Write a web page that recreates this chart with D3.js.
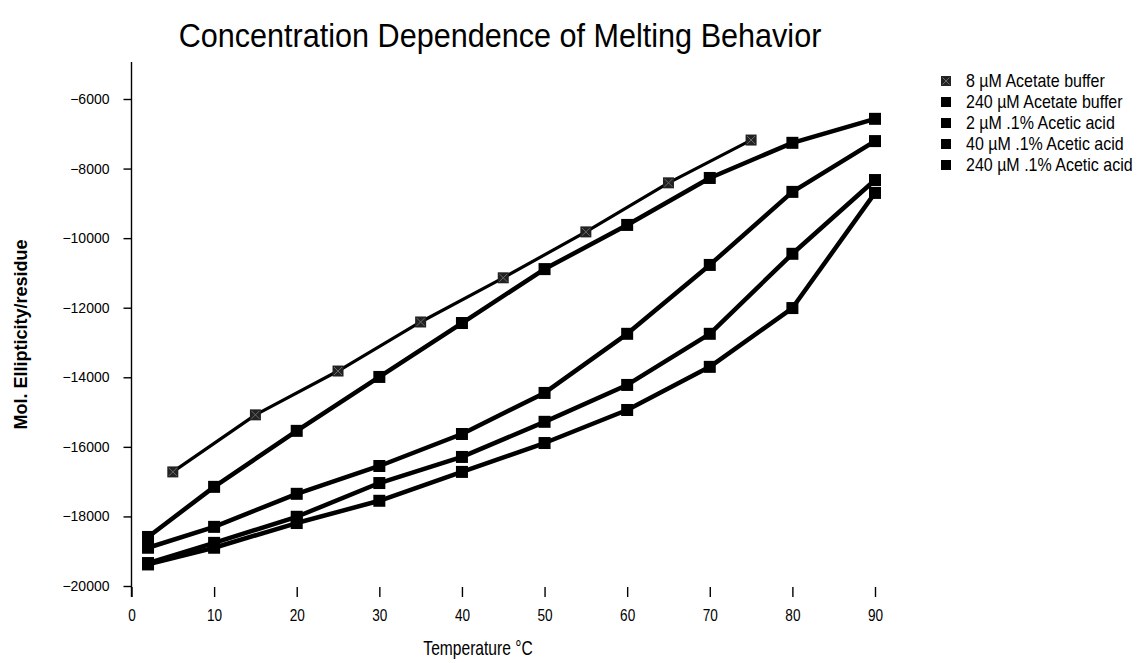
<!DOCTYPE html>
<html>
<head>
<meta charset="utf-8">
<script src="https://cdn.jsdelivr.net/npm/d3@7"></script>
<style>
  html, body { margin: 0; padding: 0; background: #fff; }
  svg { display: block; }
  text { font-family: 'Liberation Sans', Arial, sans-serif; }
</style>
</head>
<body>
<svg id="chart" width="1144" height="663"></svg>
<script>
// Temperatures (°C) at which each sample was measured
const temps = [2, 10, 20, 30, 40, 50, 60, 70, 80, 90];
const temps8 = [5, 15, 25, 35, 45, 55, 65, 75];

// Mean residue ellipticity for each sample
const acetate8 = [-16720, -15080, -13820, -12410, -11140, -9820, -8410, -7180];
const acetate240 = [-18590, -17150, -15540, -13990, -12440, -10890, -9620, -8270, -7260, -6570];
const acetic2 = [-18900, -18300, -17350, -16550, -15630, -14450, -12750, -10770, -8670, -7210];
const acetic40 = [-19340, -18760, -18010, -17040, -16290, -15280, -14220, -12750, -10450, -8330];
const acetic240 = [-19380, -18900, -18190, -17550, -16720, -15890, -14940, -13700, -12010, -8700];

const seriesNames = [
  "8 \u00b5M Acetate buffer",
  "240 \u00b5M Acetate buffer",
  "2 \u00b5M .1% Acetic acid",
  "40 \u00b5M .1% Acetic acid",
  "240 \u00b5M .1% Acetic acid"
];

const xTicks = [0, 10, 20, 30, 40, 50, 60, 70, 80, 90];
const yTicks = [-6000, -8000, -10000, -12000, -14000, -16000, -18000, -20000];

const titleText = "Concentration Dependence of Melting Behavior";
const xTitle = "Temperature \u00b0C";
const yTitle = "Mol. Ellipticity/residue";

const series = [
  { name: seriesNames[0], xs: temps8, ys: acetate8, hatched: true },
  { name: seriesNames[1], xs: temps, ys: acetate240 },
  { name: seriesNames[2], xs: temps, ys: acetic2 },
  { name: seriesNames[3], xs: temps, ys: acetic40 },
  { name: seriesNames[4], xs: temps, ys: acetic240 }
];

const svg = d3.select("#chart");

const plotTop = 62, plotBottom = 597;
const x = d3.scaleLinear().domain([0, 90]).range([131.5, 875]);
const y = d3.scaleLinear().domain([-20000, -6000]).range([586, 99]);

// Condensed lettering: regular face squeezed horizontally
const narrow = 0.8;

// Title
svg.append("text")
  .attr("transform", `translate(500,47) scale(0.9,1)`)
  .attr("text-anchor", "middle")
  .attr("font-size", 34)
  .attr("fill", "#000")
  .text(titleText);

// Y axis
const yAxis = d3.axisLeft(y).tickValues(yTicks).tickSizeInner(8).tickSizeOuter(0).tickPadding(14)
  .tickFormat(d3.format("d"));
const gy = svg.append("g").attr("transform", `translate(${x(0)},0)`).call(yAxis);
gy.select(".domain").remove();
gy.attr("font-family", null);
gy.selectAll(".tick line").attr("stroke", "#000").attr("stroke-width", 1.4);
gy.selectAll(".tick text").attr("font-size", 14).attr("fill", "#000");
svg.append("line")
  .attr("x1", x(0)).attr("x2", x(0))
  .attr("y1", plotTop).attr("y2", plotBottom)
  .attr("stroke", "#000").attr("stroke-width", 1.4);

// X axis: tick marks only, pointing up into the plot
const xAxis = d3.axisBottom(x).tickValues(xTicks).tickSizeInner(-10).tickSizeOuter(0).tickPadding(12);
const gx = svg.append("g").attr("transform", `translate(0,${plotBottom})`).call(xAxis);
gx.select(".domain").remove();
gx.attr("font-family", null);
gx.selectAll(".tick line").attr("stroke", "#000").attr("stroke-width", 1.4);
gx.selectAll(".tick text")
  .attr("font-size", 17).attr("fill", "#000")
  .attr("transform", `scale(${narrow},1)`);

// Axis titles
svg.append("text")
  .attr("transform", `translate(478,655) scale(0.78,1)`)
  .attr("text-anchor", "middle")
  .attr("font-size", 20)
  .attr("fill", "#000")
  .text(xTitle);

svg.append("text")
  .attr("transform", `translate(27,${(99 + 586) / 2 - 8}) rotate(-90)`)
  .attr("text-anchor", "middle")
  .attr("font-size", 18)
  .attr("font-weight", "bold")
  .attr("fill", "#000")
  .text(yTitle);

// Lines
const line = d3.line().x(d => x(d[0])).y(d => y(d[1]));
series.forEach(s => {
  const pts = s.xs.map((t, i) => [t, s.ys[i]]);
  svg.append("path")
    .datum(pts)
    .attr("d", line)
    .attr("fill", "none")
    .attr("stroke", "#000")
    .attr("stroke-width", s.hatched ? 3.2 : 4.5)
    .attr("stroke-linejoin", "round");
});

// Square markers
function drawMarker(g, cx, cy, size, hatched) {
  g.append("rect")
    .attr("x", cx - size / 2).attr("y", cy - size / 2)
    .attr("width", size).attr("height", size)
    .attr("fill", hatched ? "#222" : "#000");
  if (hatched) {
    const h = size / 2 - 1.5;
    g.append("path")
      .attr("d", `M${cx - h},${cy - h}L${cx + h},${cy + h}M${cx - h},${cy + h}L${cx + h},${cy - h}`)
      .attr("stroke", "#6a6a6a").attr("stroke-width", 1);
  }
}

series.forEach(s => {
  const g = svg.append("g");
  s.xs.forEach((t, i) => drawMarker(g, x(t), y(s.ys[i]), s.hatched ? 11 : 12, s.hatched));
});

// Legend
const legend = svg.append("g");
series.forEach((s, i) => {
  const ly = 81 + i * 21;
  drawMarker(legend, 946, ly, 10, s.hatched);
  legend.append("text")
    .attr("transform", `translate(966,${ly}) scale(0.89,1)`)
    .attr("dy", "0.35em")
    .attr("font-size", 18)
    .attr("fill", "#000")
    .text(s.name);
});
</script>
</body>
</html>
